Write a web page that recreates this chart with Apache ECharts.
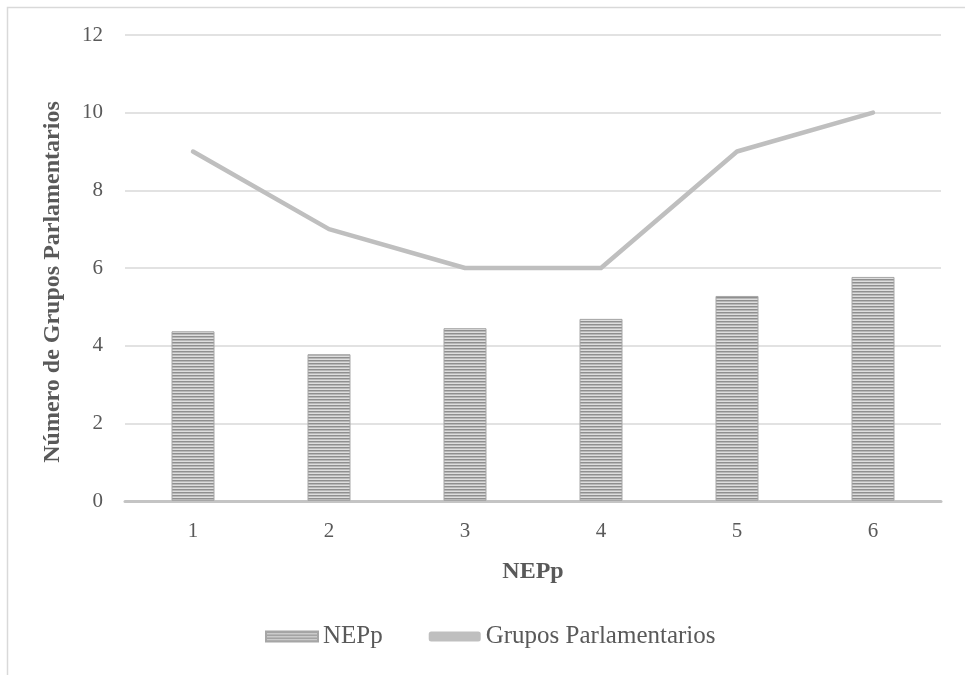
<!DOCTYPE html>
<html>
<head>
<meta charset="utf-8">
<script src="https://cdn.jsdelivr.net/npm/echarts@6/dist/echarts.min.js"></script>
<style>
html,body{margin:0;padding:0;background:#fff;}
#chart{width:965px;height:675px;}
</style>
</head>
<body>
<div id="chart"></div>
<script>
const categories = ['1', '2', '3', '4', '5', '6'];
const nepp = [4.37, 3.78, 4.45, 4.69, 5.28, 5.77];
const grupos = [9, 7, 6, 6, 9, 10];
const yTicks = [0, 2, 4, 6, 8, 10, 12];

function stripePattern() {
  const c = document.createElement('canvas');
  c.width = 4; c.height = 3;
  const ctx = c.getContext('2d');
  const rows = ['#8f8f8f', '#b8b8b8', '#dedede'];
  rows.forEach((col, i) => { ctx.fillStyle = col; ctx.fillRect(0, i, 4, 1); });
  return c;
}
const pattern = { image: stripePattern(), repeat: 'repeat' };

const FONT = '"Liberation Serif", "Times New Roman", serif';
const chart = echarts.init(document.getElementById('chart'), null, { renderer: 'canvas' });
chart.setOption({
  animation: false,
  backgroundColor: '#ffffff',
  graphic: [{
    type: 'rect', left: 5, top: 5, silent: true,
    shape: { width: 980, height: 700 },
    style: { fill: 'none', stroke: '#d9d9d9', lineWidth: 1.5 }
  }],
  grid: { left: 125, right: 24, top: 35, bottom: 174, containLabel: false },
  legend: {
    bottom: 21,
    left: 260,
    itemGap: 46,
    itemWidth: 52,
    itemHeight: 10,
    textStyle: { fontFamily: FONT, fontSize: 25, color: '#595959' },
    data: [
      { name: 'NEPp', icon: 'rect', itemStyle: { color: pattern } },
      { name: 'Grupos Parlamentarios', icon: 'roundRect' }
    ]
  },
  xAxis: {
    type: 'category',
    data: categories,
    name: 'NEPp',
    nameLocation: 'middle',
    nameGap: 59,
    nameTextStyle: { fontFamily: FONT, fontSize: 24, fontWeight: 'bold', color: '#595959' },
    axisLine: { lineStyle: { color: '#c4c4c4', width: 3 } },
    axisTick: { show: false },
    axisLabel: { fontFamily: FONT, fontSize: 21, color: '#595959', margin: 20 }
  },
  yAxis: {
    type: 'value',
    min: 0, max: 12, interval: 2,
    name: 'Número de Grupos Parlamentarios',
    nameLocation: 'middle',
    nameGap: 60,
    nameTextStyle: { fontFamily: FONT, fontSize: 24, fontWeight: 'bold', color: '#595959', padding: [0, 28, 0, 0] },
    axisLine: { show: false },
    axisTick: { show: false },
    splitLine: { lineStyle: { color: '#d9d9d9', width: 1.5 } },
    axisLabel: {
      fontFamily: FONT, fontSize: 21, color: '#595959', margin: 22,
      formatter: v => (yTicks.indexOf(v) >= 0 ? String(v) : '')
    }
  },
  series: [
    {
      name: 'NEPp',
      type: 'bar',
      data: nepp,
      barWidth: 43,
      itemStyle: { color: pattern, borderColor: '#a6a6a6', borderWidth: 1 }
    },
    {
      name: 'Grupos Parlamentarios',
      type: 'line',
      data: grupos,
      symbol: 'none',
      lineStyle: { color: '#bfbfbf', width: 4.5, cap: 'round', join: 'round' },
      itemStyle: { color: '#bfbfbf' }
    }
  ]
});
</script>
</body>
</html>
